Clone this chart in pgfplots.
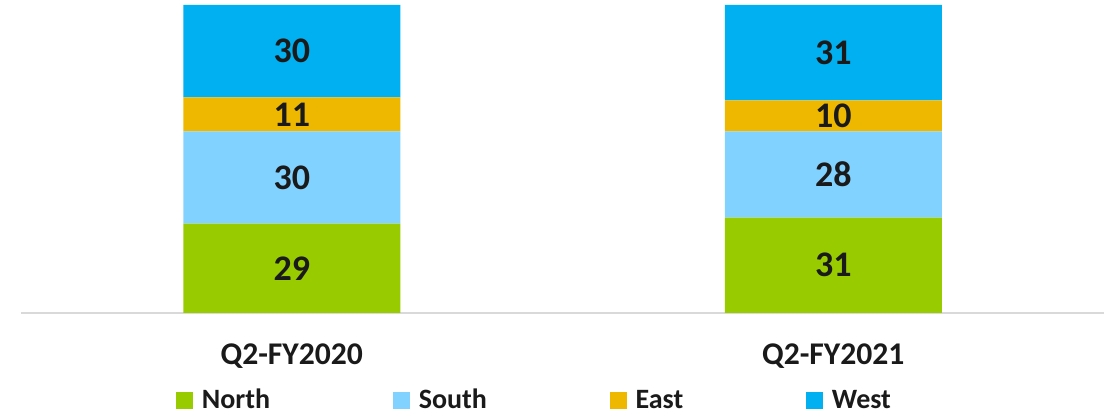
\documentclass[border=0pt]{standalone}
\usepackage{pgfplots}
\pgfplotsset{compat=1.18}
\usepackage{fontspec}
\setmainfont{Carlito}
\definecolor{cNorth}{RGB}{153,204,0}
\definecolor{cSouth}{RGB}{130,210,255}
\definecolor{cEast}{RGB}{238,184,0}
\definecolor{cWest}{RGB}{0,176,240}
\definecolor{cText}{RGB}{26,26,26}
\begin{document}
\begin{tikzpicture}
\begin{axis}[
  name=ax,
  scale only axis,
  width=812.25pt, height=231pt,
  xmin=-0.5, xmax=1.5, ymin=0, ymax=100,
  ybar stacked,
  bar width=162.75pt,
  axis x line=bottom,
  axis y line=none,
  x axis line style={-, draw={rgb,255:red,217;green,217;blue,217}, line width=1.5pt},
  xtick={0,1},
  xticklabels={Q2-FY2020,Q2-FY2021},
  major tick length=0pt,
  xticklabel style={anchor=base, yshift=-39pt, font=\fontsize{23.7}{24}\selectfont\bfseries, text=cText},
  /pgf/number format/assume math mode=true,
  point meta=explicit,
  nodes near coords={\pgfmathprintnumber{\pgfplotspointmeta}},
  every node near coord/.append style={anchor=center, font=\fontsize{27}{27}\selectfont\bfseries, text=cText},
  legend columns=4,
  legend image code/.code={\fill[#1] (0pt,-6.375pt) rectangle (12.75pt,6.375pt);},
  legend style={draw=none, fill=none, at={(axis description cs:0.1431,-0.2825)}, anchor=west,
    inner sep=0pt, outer sep=0pt,
    nodes={inner sep=0pt},
    font=\fontsize{21}{21}\selectfont\bfseries, text=cText,
    /tikz/every odd column/.append style={column sep=6.75pt},
    /tikz/every even column/.append style={column sep=92pt},
    /tikz/column 6/.append style={column sep=99pt}},
]
\addplot[fill=cNorth, draw=none] coordinates {(0,29) [29] (1,31) [31]};
\addplot[fill=cSouth, draw=none] coordinates {(0,30) [30] (1,28) [28]};
\addplot[fill=cEast, draw=none] coordinates {(0,11) [11] (1,10) [10]};
\addplot[fill=cWest, draw=none] coordinates {(0,30) [30] (1,31) [31]};
\legend{North,South,East,West}
\end{axis}
\pgfresetboundingbox
\path ([xshift=-15.75pt,yshift=-77.25pt]ax.south west) rectangle ([xshift=3.75pt,yshift=3.75pt]ax.north east);
\end{tikzpicture}
\end{document}
